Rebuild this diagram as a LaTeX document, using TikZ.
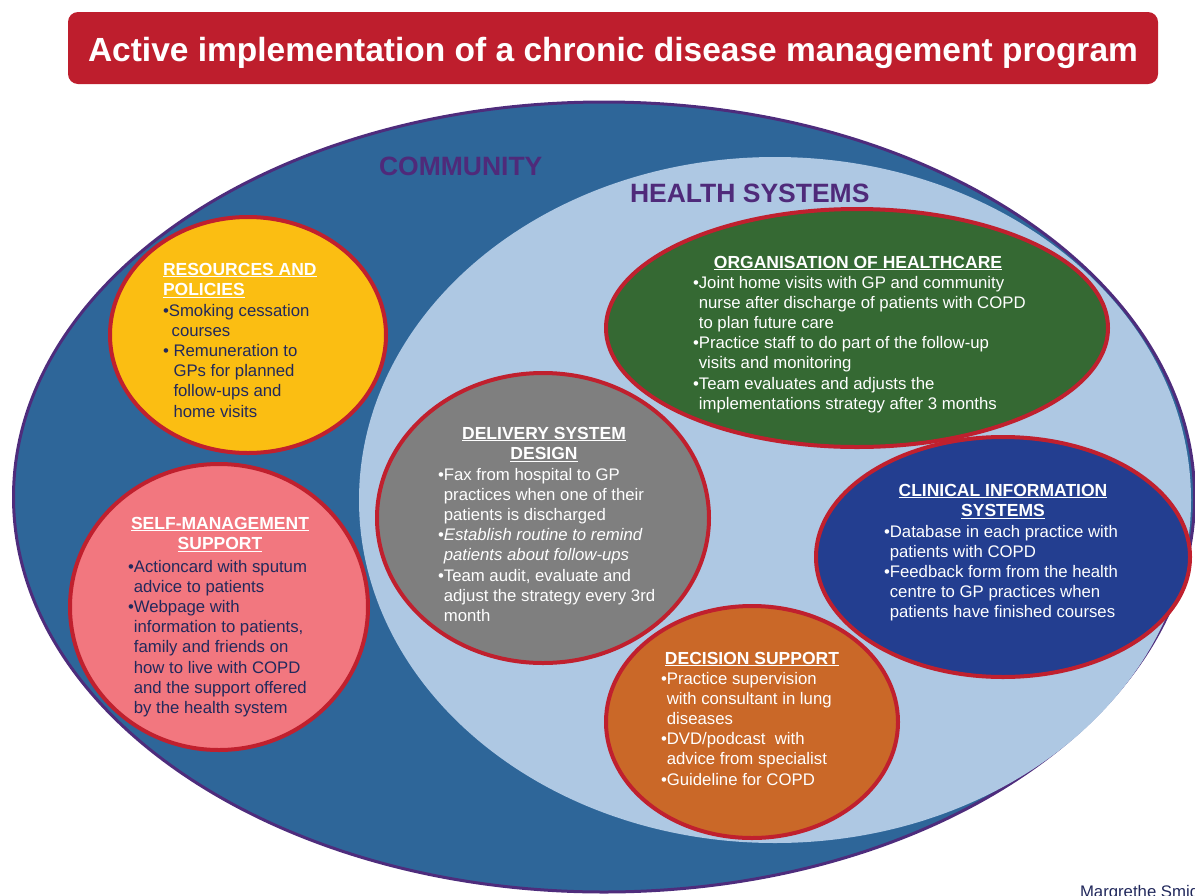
\documentclass[tikz,border=0pt]{standalone}
\usepackage{fontspec}
\setmainfont{Liberation Sans}
\usetikzlibrary{shapes.geometric}
\definecolor{titlered}{HTML}{BE1E2D}
\definecolor{commblue}{HTML}{2E6699}
\definecolor{commline}{HTML}{4E2C7C}
\definecolor{healthblue}{HTML}{AEC8E3}
\definecolor{labelpurple}{HTML}{4F2A7A}
\definecolor{bordred}{HTML}{C0202E}
\definecolor{resyellow}{HTML}{FBBE12}
\definecolor{selfpink}{HTML}{F2777F}
\definecolor{delgray}{HTML}{7F7F7F}
\definecolor{orggreen}{HTML}{356933}
\definecolor{clinblue}{HTML}{233E90}
\definecolor{decorange}{HTML}{CA6828}
\definecolor{navytext}{HTML}{22295C}
\newcommand\hdl[1]{\setbox0\hbox{#1}\rlap{\rule[-2.3pt]{\wd0}{1.4pt}}\box0}
\newcommand\bodyfont{\fontsize{16.75}{20.2}\selectfont}
\newcommand\headfont{\fontsize{17.5}{20.8}\selectfont\bfseries}
\newcommand\ind{\phantom{•}}
\newcommand\indd{\phantom{• }}
\tikzset{
  bubble/.style={ellipse, draw=bordred, line width=4pt, inner sep=0pt},
  txt/.style={inner sep=0pt, outer sep=0pt},
  bigring/.style={ellipse, inner sep=0pt},
  ringlabel/.style={txt, anchor=base west, text=labelpurple, font=\fontsize{26.5}{30}\selectfont\bfseries},
}
\begin{document}
\begin{tikzpicture}[x=1pt,y=-1pt]
\useasboundingbox (0,0) rectangle (1195,895);
% title
\node[txt, fill=titlered, rounded corners=10pt, minimum width=1090pt, minimum height=72pt,
  text=white, font=\fontsize{33.5}{38}\selectfont\bfseries, text height=33pt, text depth=7pt] (title) at (613,48)
  {Active implementation of a chronic disease management program};
% rings
\node[bigring, fill=commblue, draw=commline, line width=3pt, minimum width=1181pt, minimum height=790pt] (community) at (604,497) {};
\node[bigring, fill=healthblue, minimum width=832pt, minimum height=686pt] (health) at (775,500) {};
\node[ringlabel] (commlabel) at (379,175) {COMMUNITY};
\node[ringlabel] (healthlabel) at (630,202) {HEALTH SYSTEMS};
% bubbles
\node[bubble, fill=resyellow, minimum width=276pt, minimum height=236pt] (res) at (248,335) {};
\node[bubble, fill=selfpink, minimum width=298pt, minimum height=286pt] (self) at (219,607) {};
\node[bubble, fill=delgray, minimum width=332pt, minimum height=290pt] (del) at (543,518) {};
\node[bubble, fill=orggreen, minimum width=502pt, minimum height=238pt] (org) at (857,328) {};
\node[bubble, fill=decorange, minimum width=292pt, minimum height=232pt] (dec) at (752,722) {};
\node[bubble, fill=clinblue, minimum width=374pt, minimum height=240pt] (clin) at (1003,557) {};
% resources
\node[txt, anchor=base west, text=white] (resh) at (163,275)
  {\headfont\begin{tabular}[t]{@{}l@{}}\hdl{RESOURCES AND}\\\hdl{POLICIES}\end{tabular}};
\node[txt, anchor=base west, text=navytext] (resb) at (163,316)
  {\bodyfont\begin{tabular}[t]{@{}l@{}}•Smoking cessation\\\ind\,courses\\• Remuneration to\\\indd GPs for planned\\\indd follow-ups and\\\indd home visits\end{tabular}};
% self-management
\node[txt, anchor=base, text=white] (selfh) at (220,529)
  {\headfont\begin{tabular}[t]{@{}c@{}}\hdl{SELF-MANAGEMENT}\\\hdl{SUPPORT}\end{tabular}};
\node[txt, anchor=base west, text=navytext] (selfb) at (128,572)
  {\bodyfont\begin{tabular}[t]{@{}l@{}}•Actioncard with sputum\\\ind advice to patients\\•Webpage with\\\ind information to patients,\\\ind family and friends on\\\ind how to live with COPD\\\ind and the support offered\\\ind by the health system\end{tabular}};
% delivery
\node[txt, anchor=base, text=white] (delh) at (544,439)
  {\headfont\begin{tabular}[t]{@{}c@{}}\hdl{DELIVERY SYSTEM}\\\hdl{DESIGN}\end{tabular}};
\node[txt, anchor=base west, text=white] (delb) at (438,480)
  {\bodyfont\begin{tabular}[t]{@{}l@{}}•Fax from hospital to GP\\\ind practices when one of their\\\ind patients is discharged\\•\textit{Establish routine to remind}\\\ind\textit{patients about follow-ups}\\•Team audit, evaluate and\\\ind adjust the strategy every 3rd\\\ind month\end{tabular}};
% organisation
\node[txt, anchor=base, text=white] (orgh) at (858,268)
  {\headfont\hdl{ORGANISATION OF HEALTHCARE}};
\node[txt, anchor=base west, text=white] (orgb) at (693,288)
  {\bodyfont\begin{tabular}[t]{@{}l@{}}•Joint home visits with GP and community\\\ind nurse after discharge of patients with COPD\\\ind to plan future care\\•Practice staff to do part of the follow-up\\\ind visits and monitoring\\•Team evaluates and adjusts the\\\ind implementations strategy after 3 months\end{tabular}};
% clinical
\node[txt, anchor=base, text=white] (clinh) at (1003,496)
  {\headfont\begin{tabular}[t]{@{}c@{}}\hdl{CLINICAL INFORMATION}\\\hdl{SYSTEMS}\end{tabular}};
\node[txt, anchor=base west, text=white] (clinb) at (884,537)
  {\bodyfont\begin{tabular}[t]{@{}l@{}}•Database in each practice with\\\ind patients with COPD\\•Feedback form from the health\\\ind centre to GP practices when\\\ind patients have finished courses\end{tabular}};
% decision
\node[txt, anchor=base, text=white] (dech) at (752,664)
  {\headfont\hdl{DECISION SUPPORT}};
\node[txt, anchor=base west, text=white] (decb) at (661,684)
  {\bodyfont\begin{tabular}[t]{@{}l@{}}•Practice supervision\\\ind with consultant in lung\\\ind diseases\\•DVD/podcast\ \ with\\\ind advice from specialist\\•Guideline for COPD\end{tabular}};
% footer
\node[txt, anchor=base west, text=navytext, font=\bodyfont] (footer) at (1080,897) {Margrethe Smid};
\end{tikzpicture}
\end{document}
